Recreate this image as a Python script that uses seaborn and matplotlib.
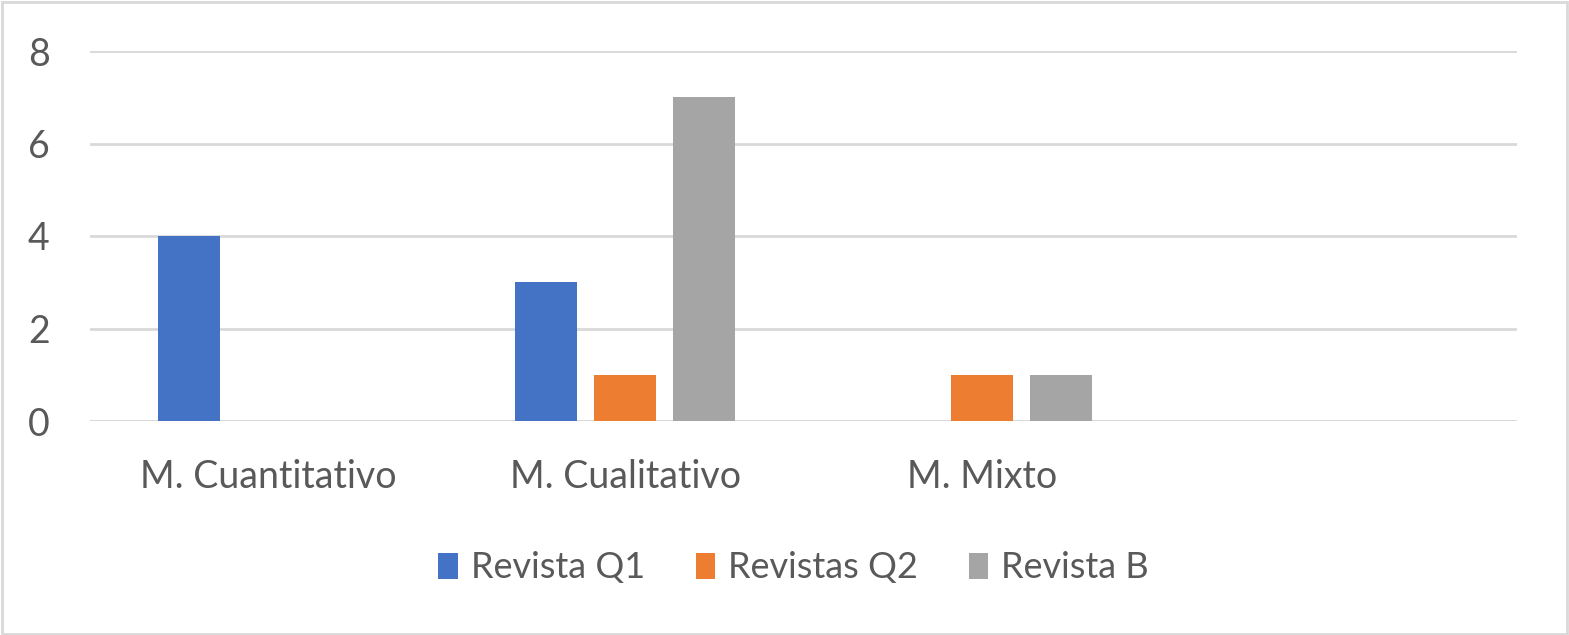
import matplotlib
matplotlib.use("Agg")
import matplotlib.pyplot as plt
import pandas as pd
import seaborn as sns
from matplotlib.patches import Rectangle

categories = ["M. Cuantitativo", "M. Cualitativo", "M. Mixto"]
series = ["Revista Q1", "Revistas Q2", "Revista B"]
revista_q1 = [4, 3, 0]
revistas_q2 = [0, 1, 1]
revista_b = [0, 7, 1]
yticks = [0, 2, 4, 6, 8]

colors = ["#4472C4", "#ED7D31", "#A5A5A5"]
text_color = "#595959"

df = pd.DataFrame({
    "categoria": categories * 3,
    "serie": [series[0]] * 3 + [series[1]] * 3 + [series[2]] * 3,
    "valor": revista_q1 + revistas_q2 + revista_b,
})

sns.set_theme(style="white")
plt.rcParams["font.family"] = ["Lato", "DejaVu Sans"]

fig = plt.figure(figsize=(15.69, 6.35), dpi=100)
ax = fig.add_axes([90 / 1569, 1 - 421 / 635, 1427 / 1569, 370 / 635])

sns.barplot(
    data=df, x="categoria", y="valor", hue="serie",
    order=categories, hue_order=series, palette=colors, saturation=1,
    width=0.664, gap=0.215, linewidth=0, ax=ax,
)

# Excel leaves room for a fourth, empty category
ax.set_xlim(-0.5, 3.5)
ax.set_ylim(0, 8)
ax.set_yticks(yticks)
ax.set_yticklabels([str(t) for t in yticks])
ax.yaxis.grid(True, color="#D9D9D9", linewidth=2)
ax.set_axisbelow(True)
for s in ax.spines.values():
    s.set_visible(False)
ax.axhline(0, color="#D9D9D9", linewidth=2, zorder=0.5)
ax.tick_params(axis="both", length=0, colors=text_color, labelsize=27)
ax.tick_params(axis="y", pad=29)
ax.tick_params(axis="x", pad=27)
ax.set_xlabel("")
ax.set_ylabel("")

ax.legend(
    loc="center", bbox_to_anchor=(0.493, -0.397), ncol=3, frameon=False,
    fontsize=26, labelcolor=text_color, handlelength=0.55, handleheight=0.75,
    handletextpad=0.35, columnspacing=1.4,
)

fig.patches.append(Rectangle((0.001, 0.002), 0.998, 0.995, transform=fig.transFigure,
                             fill=False, edgecolor="#D9D9D9", linewidth=2))

fig.savefig("out.png", dpi=100)
